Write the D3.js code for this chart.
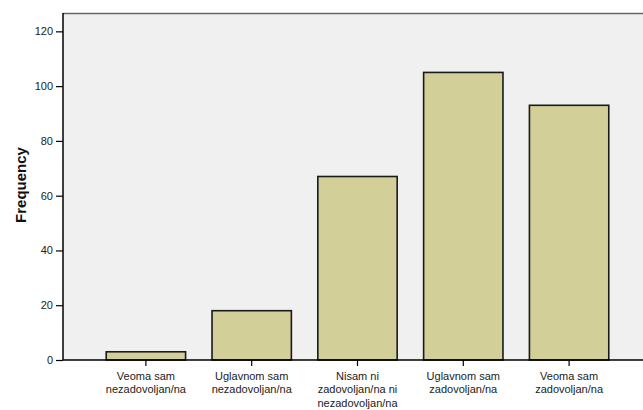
<!DOCTYPE html>
<html><head><meta charset="utf-8">
<script src="https://cdn.jsdelivr.net/npm/d3@7"></script>
<style>body{margin:0;background:#fff;}svg{display:block;font-family:"Liberation Sans",Arial,sans-serif;}</style>
</head><body>
<svg id="c" width="643" height="410"></svg>
<script>
const categories = [
  ["Veoma sam","nezadovoljan/na"],
  ["Uglavnom sam","nezadovoljan/na"],
  ["Nisam ni","zadovoljan/na ni","nezadovoljan/na"],
  ["Uglavnom sam","zadovoljan/na"],
  ["Veoma sam","zadovoljan/na"]
];
const values = [3, 18, 67, 105, 93];
const yTicks = [0, 20, 40, 60, 80, 100, 120];
const yTitle = "Frequency";

const svg = d3.select("#c");
const plotL = 63, plotR = 643, plotT = 13, plotB = 360;

const y = d3.scaleLinear().domain([0, 126.7]).range([plotB, plotT]);
const x = d3.scaleBand().domain(d3.range(categories.length)).range([93, 622]).paddingInner(0.25).paddingOuter(0.125);

svg.append("rect").attr("x", plotL).attr("y", plotT).attr("width", plotR - plotL).attr("height", plotB - plotT).attr("fill", "#f0f0f0");
svg.append("line").attr("x1", plotL).attr("x2", plotR).attr("y1", plotT + 0.5).attr("y2", plotT + 0.5).attr("stroke", "#666").attr("stroke-width", 1.5);

svg.selectAll("rect.bar").data(values).enter().append("rect").attr("class", "bar")
  .attr("x", (d, i) => x(i)).attr("width", x.bandwidth())
  .attr("y", d => y(d)).attr("height", d => y(0) - y(d))
  .attr("fill", "#d3cf98").attr("stroke", "#1a1a1a").attr("stroke-width", 1.6);

// y axis
const ya = svg.append("g").attr("transform", `translate(${plotL},0)`)
  .call(d3.axisLeft(y).tickValues(yTicks).tickSize(7).tickPadding(3));
ya.select(".domain").attr("d", `M0,${plotT}V${plotB}`).attr("stroke", "#000").attr("stroke-width", 1.5);
ya.selectAll(".tick line").attr("stroke", "#000").attr("stroke-width", 1.2);
ya.selectAll(".tick text").attr("font-size", 11).attr("fill", "#222").attr("font-family", "Liberation Sans, Arial, sans-serif");

// x axis
const xa = svg.append("g").attr("transform", `translate(0,${plotB})`);
xa.append("line").attr("x1", plotL).attr("x2", plotR).attr("y1", 0).attr("y2", 0).attr("stroke", "#000").attr("stroke-width", 1.5);
categories.forEach((lines, i) => {
  const cx = x(i) + x.bandwidth() / 2;
  xa.append("line").attr("x1", cx).attr("x2", cx).attr("y1", 0).attr("y2", 6).attr("stroke", "#000").attr("stroke-width", 1.2);
  const t = xa.append("text").attr("text-anchor", "middle").attr("font-size", 11).attr("fill", "#222");
  lines.forEach((l, j) => t.append("tspan").attr("x", cx).attr("y", 20 + j * 13.3).text(l));
});

svg.append("text").attr("transform", `translate(26,185) rotate(-90)`)
  .attr("text-anchor", "middle").attr("font-size", 15).attr("font-weight", "bold").attr("fill", "#111").text(yTitle);
</script>
</body></html>
